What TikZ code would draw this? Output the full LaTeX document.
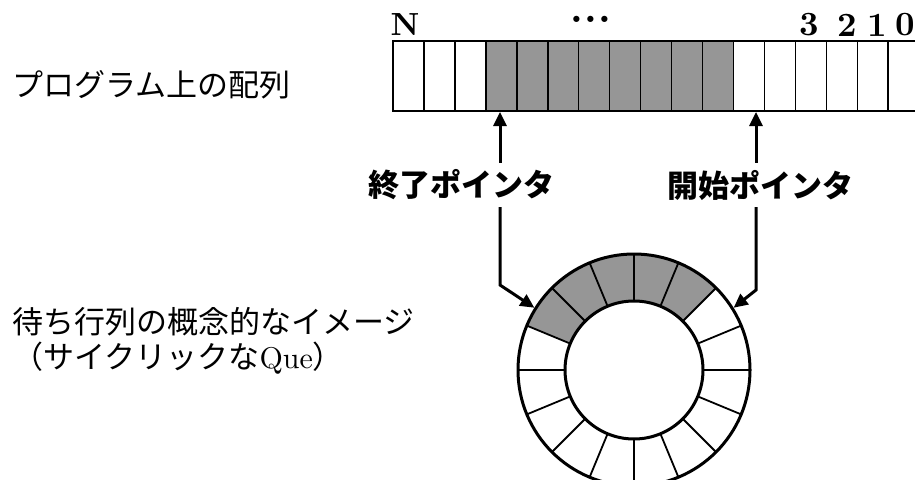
\documentclass[tikz,border=0pt]{standalone}
\usepackage{fontspec}
\newfontfamily\jp{Noto Sans CJK JP}
\usetikzlibrary{arrows.meta,calc}
\definecolor{qgray}{RGB}{150,150,150}
\begin{document}
\begin{tikzpicture}[x=1pt,y=1pt,
  cellbox/.style={draw=black, line width=1.5pt, minimum width=30.95pt, minimum height=70pt, inner sep=0pt, outer sep=0pt, anchor=north west},
  ptr/.style={line width=3pt, -{Triangle[length=14pt,width=13pt]}},
  jptext/.style={anchor=west, inner sep=0pt, font=\jp\fontsize{31pt}{31pt}\selectfont},
  ptrlabel/.style={inner sep=0pt, minimum height=44pt, font=\jp\bfseries\fontsize{31pt}{31pt}\selectfont},
  idx/.style={inner sep=0pt, font=\fontsize{10pt}{12pt}\selectfont\bfseries},
  divider/.style={line width=1.8pt},
  rim/.style={line width=3pt}]
\useasboundingbox (0,0) rectangle (915,-479);
\clip (0,0) rectangle (915,-479);

% array cells
\foreach \i in {0,...,17}{
  \ifnum\i<3 \def\cf{white}\else\ifnum\i<11 \def\cf{qgray}\else\def\cf{white}\fi\fi
  \node[cellbox, fill=\cf] (c\i) at ({393+\i*30.95},-41) {};
}

% index labels
\node[idx] (lN) at (405,-25) {\scalebox{3.2}{N}};
\node[idx] (ldots) at (591,-19) {\scalebox{4.0}{\textbf{.\kern0.03em.\kern0.03em.}}};
\node[idx] (l3) at (809,-25) {\scalebox{3.4}{3}};
\node[idx] (l2) at (847,-25) {\scalebox{3.4}{2}};
\node[idx] (l1) at (877,-25) {\scalebox{3.4}{1}};
\node[idx] (l0) at (905,-25) {\scalebox{3.4}{0}};

% left texts
\node[jptext] (tarr) at (12,-85) {プログラム上の配列};
\node[jptext] (timg) at (12,-322) {待ち行列の概念的なイメージ};
\node[jptext] (tcyc) at (12,-358) {（サイクリックな{\rmfamily\fontsize{10pt}{12pt}\selectfont\scalebox{3.0}{Que}}）};

% pointer labels
\node[ptrlabel] (endl) at (461,-185) {終了ポインタ};
\node[ptrlabel] (startl) at (760,-185) {開始ポインタ};

% ring
\node[circle, minimum size=235pt, inner sep=0pt, outer sep=0pt] (ring) at (634,-370) {};
\begin{scope}[shift={(ring.center)}]
  \fill[qgray] (45:116) arc[start angle=45, end angle=157.5, radius=116]
     -- (157.5:69) arc[start angle=157.5, end angle=45, radius=69] -- cycle;
  \foreach \a in {0,22.5,...,337.5}
    \draw[divider] (\a:69) -- (\a:116);
  \draw[rim] (0,0) circle[radius=116];
  \draw[rim] (0,0) circle[radius=69];
\end{scope}

% pointer connectors
\coordinate (eTop) at (500,-112);
\coordinate (sTop) at (756,-112);
\coordinate (eBend) at (500,-285);
\coordinate (sBend) at (756,-290);
\draw[ptr] (endl.north -| eTop) -- (eTop);
\draw[ptr] (startl.north -| sTop) -- (sTop);
\draw[ptr] (endl.south -| eTop) -- (eBend) -- (ring.148);
\draw[ptr] (startl.south -| sTop) -- (sBend) -- (ring.32);
\end{tikzpicture}
\end{document}
